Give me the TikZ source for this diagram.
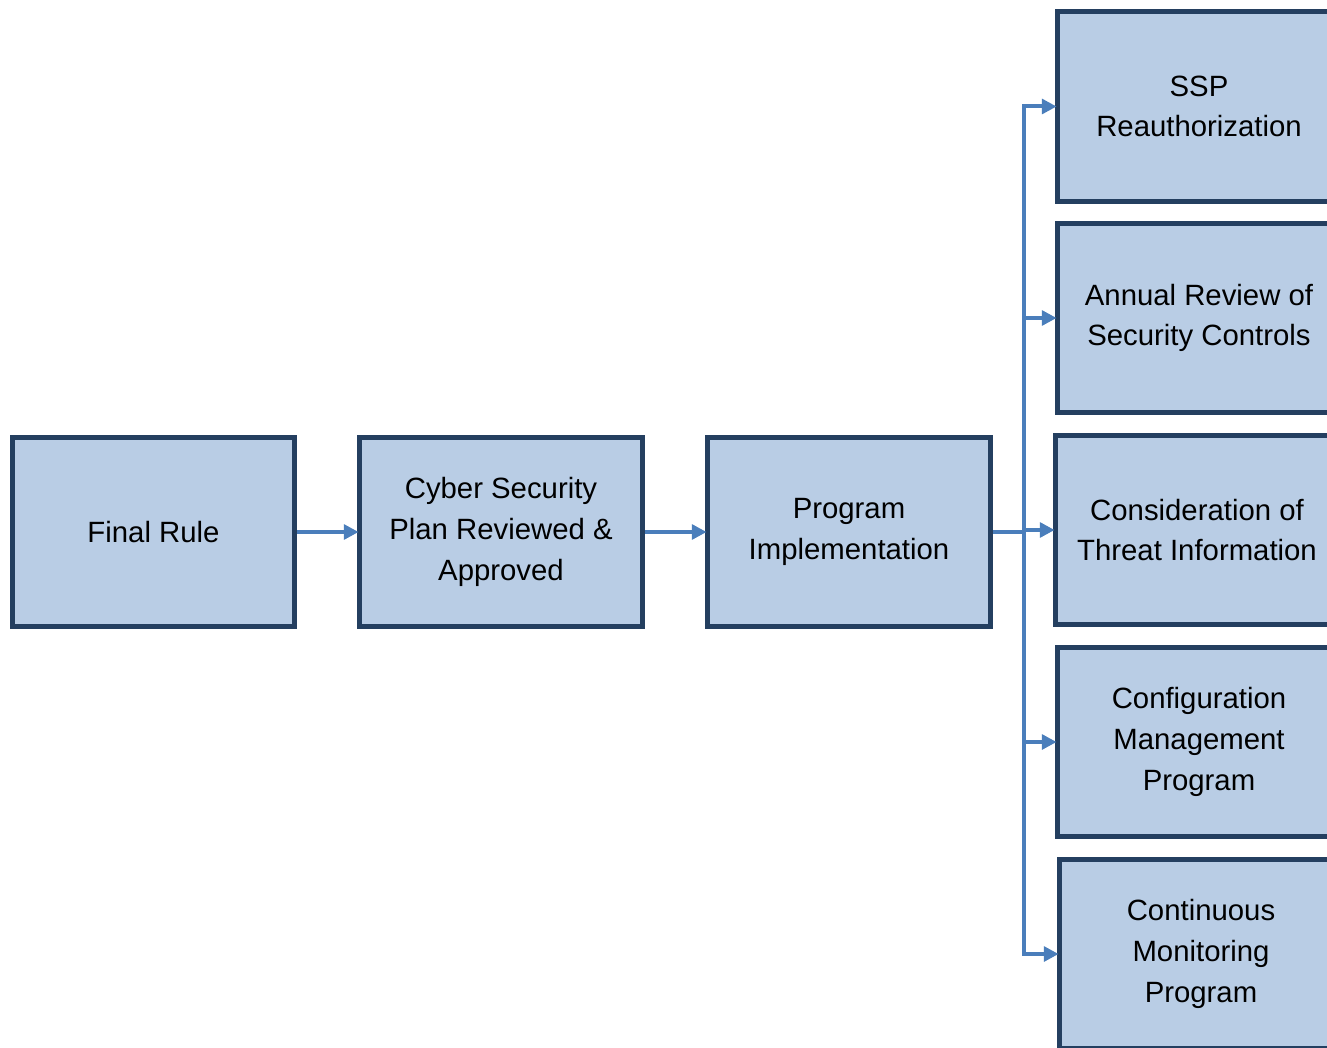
\documentclass[tikz,border=0pt]{standalone}
\usepackage{fontspec}
\setmainfont{Liberation Sans}
\usetikzlibrary{arrows.meta}
\definecolor{boxfill}{HTML}{B9CDE5}
\definecolor{boxline}{HTML}{243F60}
\definecolor{arrowc}{HTML}{4A7EBB}
\begin{document}
\begin{tikzpicture}[x=0.75pt,y=-0.75pt,
  box/.style={draw=boxline, fill=boxfill, line width=3.6pt, minimum width=212pt, minimum height=142pt,
    align=center, inner sep=0pt, font=\fontsize{22}{30.6}\selectfont},
  conn/.style={draw=arrowc, line width=3pt},
  arr/.style={conn, -{Triangle[length=11pt,width=11pt]}, shorten >=-1pt}]
\useasboundingbox (0,0) rectangle (1327,1048);
\clip (0,0) rectangle (1327,1048);
\node[box] (final) at (153.5,532) {Final Rule};
\node[box] (csp) at (501,532) {Cyber Security\\Plan Reviewed \&\\Approved};
\node[box] (prog) at (849,532) {Program\\Implementation};
\node[box] (ssp) at (1199,106.5) {SSP\\Reauthorization};
\node[box] (annual) at (1199,318) {Annual Review of\\Security Controls};
\node[box] (threat) at (1197,530) {Consideration of\\Threat Information};
\node[box] (config) at (1199,742) {Configuration\\Management\\Program};
\node[box] (cont) at (1201,954) {Continuous\\Monitoring\\Program};
\coordinate (j) at (1024,532);
\draw[arr] (final) -- (csp);
\draw[arr] (csp) -- (prog);
\draw[conn] (prog.east) -- (j);
\draw[arr] (j) |- (ssp.west);
\draw[arr] (j) |- (annual.west);
\draw[arr] (j) -- (j |- threat.west) -- (threat.west);
\draw[arr] (j) |- (config.west);
\draw[arr] (j) |- (cont.west);
\end{tikzpicture}
\end{document}
